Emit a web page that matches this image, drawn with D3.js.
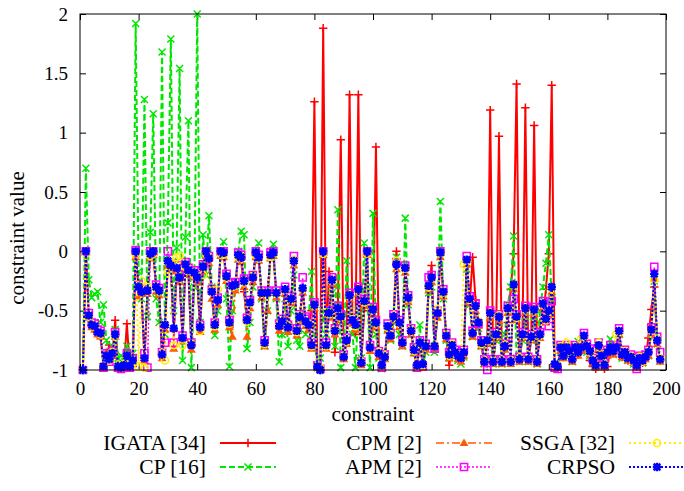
<!DOCTYPE html>
<html><head><meta charset="utf-8">
<script src="https://cdn.jsdelivr.net/npm/d3@7"></script>
<style>
body{margin:0;background:#fff}
svg{display:block}
text{font-family:"Liberation Serif","Times New Roman",serif;fill:#000}
</style>
</head><body>
<svg id="c" width="684" height="491"></svg>
<script>
// ---------- data ----------
const seriesNames = ["IGATA [34]", "CP [16]", "CPM [2]", "APM [2]", "SSGA [32]", "CRPSO"];
const xTicks = [0, 20, 40, 60, 80, 100, 120, 140, 160, 180, 200];
const yTicks = [-1, -0.5, 0, 0.5, 1, 1.5, 2];
const yTickLabels = ["-1", "-0.5", "0", "0.5", "1", "1.5", "2"];

const igata = [
 -1, 0, -0.54, -0.62, -0.65, -0.70, -0.72, -0.95, -0.90, -0.79,
 -0.90, -0.58, -0.97, -0.99, -0.98, -0.61, -0.98, -0.97, -0.02, -0.32,
 -0.36, -0.92, -0.35, -0.04, -0.02, -0.32, -0.35, -0.88, -0.64, -0.10,
 -0.14, -0.67, -0.16, -0.24, -0.75, -0.13, -0.18, -0.80, -0.20, -0.24,
 -0.66, -0.15, -0.02, -0.08, -0.36, -0.64, -0.43, -0.02, -0.03, -0.23,
 -0.62, -0.31, -0.30, -0.05, -0.07, -0.34, -0.60, -0.45, -0.24, -0.03,
 -0.07, -0.37, -0.79, -0.37, -0.05, -0.03, -0.37, -0.65, -0.61, -0.34,
 -0.66, -0.42, -0.10, -0.69, -0.57, -0.33, -0.61, -0.64, -0.50, 1.26,
 -0.97, -1, 1.88, -0.80, -0.17, -0.30, -0.85, -0.50, 0.94, -0.90,
 -0.76, 1.32, -0.60, -0.70, 1.32, -0.94, -0.50, -0.05, -0.82, -0.60,
 0.88, -0.87, -0.97, -0.90, -0.65, -0.73, -0.57, 0.0, -0.62, -0.79,
 -0.16, -0.41, -0.69, -0.85, -0.97, -0.79, -0.96, -0.82, -0.31, -0.12,
 -0.82, -0.54, -0.03, -0.36, -0.73, -0.96, -0.81, -0.87, -0.90, -0.92,
 -0.87, -0.09, -0.45, -0.05, -0.41, -0.62, -0.79, -0.94, -0.77, 1.19,
 -0.94, -0.72, 0.97, -0.94, -0.82, -0.60, -0.32, -0.02, 1.41, -0.92,
 -0.72, 1.21, -0.92, -0.74, 1.06, -0.94, -0.60, -0.59, -0.32, -0.02,
 1.40, -0.97, -0.98, -0.83, -0.89, -0.83, -0.86, -0.92, -0.83, -0.87,
 -0.83, -0.73, -0.82, -0.92, -0.97, -0.99, -0.85, -0.92, -0.99, -0.97,
 -0.83, -0.86, -0.83, -0.69, -0.89, -0.87, -0.92, -0.91, -0.94, -0.97,
 -0.92, -0.94, -0.91, -0.73, -0.49, -0.30, -0.77, -0.92
];

const cp = [
 -1, 0.70, -0.24, -0.39, -0.36, -0.34, -0.60, -0.45, -0.75, -0.85,
 -0.80, -0.66, -0.90, -0.88, -0.95, -0.80, -0.95, -0.86, 1.92, -0.17,
 -0.40, 1.28, -0.55, 0.16, 1.16, -0.40, -0.60, 1.68, -0.70, 0.24,
 1.79, -0.50, 0.03, 1.54, -0.92, 0.12, 1.10, -0.98, -0.30, 2.0,
 -0.60, 0.14, -0.20, 0.30, -0.30, -0.71, -0.50, 0.0, 0.08, -0.40,
 -0.97, -0.50, -0.30, 0.0, 0.17, 0.14, -0.82, -0.60, -0.30, 0.0,
 0.07, -0.40, -0.80, -0.50, 0.0, 0.06, -0.40, -0.93, -0.70, -0.40,
 -0.80, -0.50, -0.20, -0.75, -0.80, -0.50, -0.70, -0.60, -0.17, -0.70,
 -0.98, -0.90, -0.50, -0.70, -0.50, -0.35, -0.80, 0.35, -0.98, -0.90,
 -0.08, -0.50, -0.70, -0.98, -0.50, -0.90, 0.07, -0.30, -0.98, 0.32,
 -0.70, -0.90, -0.99, -0.90, -0.65, -0.75, -0.60, -0.05, -0.70, -0.80,
 0.28, -0.45, -0.70, -0.85, -0.98, -0.62, -0.97, -0.85, -0.35, -0.30,
 -0.85, -0.55, 0.42, -0.40, -0.75, -0.90, -0.82, -0.88, -0.92, -0.95,
 -0.89, -0.15, -0.45, -0.72, -0.50, -0.65, -0.80, -0.95, -0.78, -0.70,
 -0.95, -0.75, -0.60, -0.95, -0.70, -0.45, -0.30, 0.13, -0.90, -0.93,
 -0.75, -0.55, -0.93, -0.75, -0.55, -0.95, -0.50, -0.30, -0.10, 0.14,
 -0.40, -0.97, -0.98, -0.85, -0.88, -0.80, -0.86, -0.93, -0.80, -0.76,
 -0.83, -0.75, -0.85, -0.88, -0.94, -0.97, -0.80, -0.90, -0.97, -0.86,
 -0.74, -0.87, -0.80, -0.70, -0.90, -0.88, -0.92, -0.90, -0.95, -0.97,
 -0.92, -0.94, -0.90, -0.88, -0.70, -0.25, -0.78, -0.92
];

const cpm = [
 -1, 0, -0.56, -0.64, -0.66, -0.70, -0.72, -0.95, -0.85, -0.90,
 -0.88, -0.72, -0.95, -0.97, -0.98, -0.90, -0.95, -0.93, -0.05, -0.38,
 -0.36, -0.92, -0.36, -0.06, -0.03, -0.34, -0.37, -0.90, -0.66, -0.12,
 -0.16, -0.82, -0.17, -0.26, -0.76, -0.15, -0.20, -0.83, -0.22, -0.26,
 -0.68, -0.17, -0.04, -0.10, -0.40, -0.66, -0.45, -0.04, -0.05, -0.25,
 -0.64, -0.72, -0.33, -0.07, -0.09, -0.30, -0.72, -0.48, -0.26, -0.05,
 -0.08, -0.39, -0.80, -0.50, -0.06, -0.04, -0.39, -0.67, -0.63, -0.36,
 -0.68, -0.44, -0.12, -0.71, -0.58, -0.35, -0.63, -0.66, -0.82, -0.48,
 -0.98, -1, -0.03, -0.82, -0.56, -0.28, -0.70, -0.52, -0.58, -0.91,
 -0.78, -0.41, -0.61, -0.66, -0.36, -0.96, -0.46, -0.03, -0.84, -0.53,
 -0.64, -0.89, -0.98, -0.91, -0.67, -0.74, -0.58, -0.15, -0.64, -0.80,
 -0.18, -0.43, -0.70, -0.86, -0.98, -0.80, -0.97, -0.83, -0.33, -0.26,
 -0.83, -0.56, -0.05, -0.38, -0.74, -0.90, -0.82, -0.88, -0.91, -0.93,
 -0.88, -0.11, -0.44, -0.72, -0.50, -0.63, -0.80, -0.95, -0.78, -0.56,
 -0.95, -0.73, -0.59, -0.95, -0.83, -0.52, -0.95, -0.32, -0.58, -0.93,
 -0.73, -0.52, -0.93, -0.75, -0.53, -0.95, -0.73, -0.48, -0.60, -0.54,
 -0.34, -0.97, -0.98, -0.84, -0.90, -0.84, -0.87, -0.93, -0.84, -0.88,
 -0.84, -0.74, -0.83, -0.87, -0.94, -0.98, -0.82, -0.90, -0.98, -0.88,
 -0.84, -0.87, -0.84, -0.70, -0.89, -0.88, -0.92, -0.91, -0.94, -0.98,
 -0.92, -0.94, -0.91, -0.88, -0.70, -0.23, -0.78, -0.93
];

const apm = [
 -1, 0, -0.52, -0.60, -0.61, -0.66, -0.67, -0.98, -0.86, -0.93,
 -0.84, -0.68, -0.98, -0.99, -0.97, -0.86, -0.98, -0.90, 0.01, -0.28,
 -0.32, -0.86, -0.98, 0, 0, -0.28, -0.31, -0.85, -0.77, 0,
 -0.10, -0.77, -0.12, -0.20, -0.71, -0.09, -0.14, -0.77, -0.16, -0.20,
 -0.62, -0.11, 0, -0.04, -0.32, -0.60, -0.39, 0, 0, -0.19,
 -0.58, -0.27, -0.26, -0.01, -0.03, -0.23, -0.56, -0.41, -0.20, 0,
 -0.03, -0.33, -0.75, -0.33, -0.01, 0, -0.33, -0.61, -0.57, -0.30,
 -0.62, -0.38, -0.04, -0.65, -0.53, -0.22, -0.57, -0.55, -0.77, -0.43,
 -0.96, -0.99, 0, -0.77, -0.50, -0.22, -0.65, -0.46, -0.53, -0.87,
 -0.73, -0.35, -0.56, -0.60, -0.30, -0.93, -0.40, 0, -0.79, -0.47,
 -0.58, -0.84, -0.98, -0.87, -0.61, -0.69, -0.53, -0.09, -0.58, -0.75,
 -0.12, -0.37, -0.65, -0.81, -0.98, -0.75, -0.97, -0.78, -0.22, -0.20,
 -0.82, -0.50, 0, -0.32, -0.69, -0.85, -0.77, -0.83, -0.86, -0.88,
 -0.83, -0.04, -0.38, -0.67, -0.44, -0.61, -0.75, -0.91, -1, -0.50,
 -0.91, -0.68, -0.53, -0.91, -0.78, -0.46, -0.91, -0.40, -0.53, -0.89,
 -0.68, -0.46, -0.89, -0.70, -0.47, -0.91, -0.68, -0.42, -0.55, -0.63,
 -0.42, -0.98, -0.99, -0.79, -0.86, -0.79, -0.82, -0.89, -0.79, -0.83,
 -0.79, -0.69, -0.78, -0.82, -0.90, -0.94, -0.77, -0.86, -0.94, -0.83,
 -0.79, -0.82, -0.79, -0.65, -0.85, -0.83, -0.88, -0.87, -0.90, -0.99,
 -0.88, -0.90, -0.87, -0.83, -0.64, -0.13, -0.72, -0.85
];

const ssga = [
 -1, -0.02, -0.55, -0.61, -0.64, -0.67, -0.70, -0.96, -0.89, -0.92,
 -0.85, -0.71, -0.96, -0.97, -0.95, -0.89, -0.96, -0.93, -0.03, -0.97,
 -0.25, -0.98, -0.30, -0.04, -0.02, -0.31, -0.34, -0.86, -0.92, -0.18,
 -0.10, -0.79, -0.05, -0.04, -0.79, -0.13, -0.17, -0.78, -0.20, -0.21,
 -0.67, -0.20, -0.02, -0.05, -0.33, -0.63, -0.32, -0.02, -0.03, -0.22,
 -0.61, -0.30, -0.29, -0.05, -0.04, -0.26, -0.59, -0.44, -0.21, -0.03,
 -0.06, -0.34, -0.78, -0.36, -0.05, -0.02, -0.36, -0.62, -0.60, -0.33,
 -0.63, -0.41, -0.07, -0.68, -0.54, -0.32, -0.60, -0.61, -0.80, -0.46,
 -0.96, -0.98, -0.02, -0.80, -0.53, -0.25, -0.66, -0.49, -0.56, -0.88,
 -0.76, -0.38, -0.57, -0.63, -0.33, -0.93, -0.43, -0.02, -0.80, -0.50,
 -0.61, -0.85, -0.97, -0.88, -0.64, -0.70, -0.56, -0.08, -0.61, -0.76,
 -0.15, -0.40, -0.66, -0.84, -0.97, -0.78, -0.96, -0.79, -0.30, -0.23,
 -0.79, -0.49, -0.02, -0.36, -0.70, -0.88, -0.78, -0.86, -0.87, -0.89,
 -0.11, -0.08, -0.41, -0.68, -0.47, -0.59, -0.78, -0.92, -0.76, -0.53,
 -0.92, -0.71, -0.54, -0.92, -0.79, -0.49, -0.92, -0.29, -0.56, -0.90,
 -0.71, -0.49, -0.90, -0.73, -0.50, -0.92, -0.71, -0.45, -0.58, -0.51,
 -0.31, -0.96, -0.96, -0.80, -0.87, -0.77, -0.85, -0.90, -0.82, -0.84,
 -0.74, -0.72, -0.81, -0.85, -0.91, -0.95, -0.77, -0.87, -0.95, -0.84,
 -0.82, -0.83, -0.70, -0.68, -0.86, -0.84, -0.89, -0.88, -0.93, -0.95,
 -0.89, -0.93, -0.88, -0.84, -0.67, -0.24, -0.74, -0.90
];

const crpso = [
 -1, 0, -0.54, -0.62, -0.63, -0.68, -0.69, -0.97, -0.88, -0.91,
 -0.86, -0.70, -0.97, -0.98, -0.96, -0.88, -0.97, -0.92, 0, -0.30,
 -0.34, -0.90, -0.33, -0.02, 0, -0.30, -0.33, -0.87, -0.62, -0.08,
 -0.12, -0.65, -0.14, -0.22, -0.73, -0.11, -0.16, -0.79, -0.18, -0.22,
 -0.64, -0.13, 0, -0.06, -0.34, -0.62, -0.41, 0, -0.01, -0.21,
 -0.60, -0.29, -0.28, -0.03, -0.05, -0.25, -0.58, -0.43, -0.22, -0.01,
 -0.05, -0.35, -0.77, -0.35, -0.03, -0.01, -0.35, -0.63, -0.59, -0.32,
 -0.64, -0.40, -0.08, -0.67, -0.55, -0.31, -0.59, -0.62, -0.79, -0.45,
 -0.97, -1, 0, -0.79, -0.52, -0.24, -0.67, -0.48, -0.55, -0.89,
 -0.75, -0.37, -0.58, -0.62, -0.32, -0.94, -0.42, 0, -0.81, -0.49,
 -0.60, -0.86, -0.96, -0.89, -0.63, -0.71, -0.55, -0.11, -0.60, -0.77,
 -0.14, -0.39, -0.67, -0.83, -0.96, -0.77, -0.95, -0.80, -0.29, -0.22,
 -0.80, -0.52, -0.01, -0.34, -0.71, -0.87, -0.79, -0.85, -0.88, -0.90,
 -0.85, -0.07, -0.40, -0.69, -0.46, -0.60, -0.77, -0.93, -0.75, -0.52,
 -0.93, -0.70, -0.55, -0.93, -0.80, -0.48, -0.93, -0.28, -0.55, -0.91,
 -0.70, -0.48, -0.91, -0.72, -0.49, -0.93, -0.70, -0.44, -0.57, -0.50,
 -0.30, -0.95, -0.97, -0.81, -0.88, -0.81, -0.84, -0.91, -0.81, -0.85,
 -0.81, -0.71, -0.80, -0.84, -0.92, -0.96, -0.79, -0.88, -0.96, -0.85,
 -0.81, -0.84, -0.81, -0.67, -0.87, -0.85, -0.90, -0.89, -0.92, -0.96,
 -0.90, -0.92, -0.89, -0.85, -0.66, -0.19, -0.75, -0.91
];

// ---------- styles ----------
const styles = [
  {name: seriesNames[0], data: igata, color: "#ff0000", dash: null,      lw: 2,   marker: "plus"},
  {name: seriesNames[1], data: cp,    color: "#00e600", dash: "6,3",     lw: 2,   marker: "cross"},
  {name: seriesNames[2], data: cpm,   color: "#ff5a00", dash: "8,3,2,3", lw: 1.6, marker: "tri"},
  {name: seriesNames[3], data: apm,   color: "#ff00ff", dash: "2,2",     lw: 1.5, marker: "square"},
  {name: seriesNames[4], data: ssga,  color: "#ffee00", dash: "2,3",     lw: 2,   marker: "circle"},
  {name: seriesNames[5], data: crpso, color: "#0000ff", dash: "2,2",     lw: 2,   marker: "star"}
];

const svg = d3.select("#c");
const x = d3.scaleLinear().domain([0, 200]).range([80, 666]);
const y = d3.scaleLinear().domain([-1, 2]).range([370, 14]);

function markerPath(type, cx, cy) {
  const s = 4.2;
  switch (type) {
    case "plus": return `M${cx-s},${cy}H${cx+s}M${cx},${cy-s}V${cy+s}`;
    case "cross": return `M${cx-3.5},${cy-3.5}L${cx+3.5},${cy+3.5}M${cx-3.5},${cy+3.5}L${cx+3.5},${cy-3.5}`;
    case "star": return `M${cx-s},${cy}H${cx+s}M${cx},${cy-s}V${cy+s}M${cx-3.3},${cy-3.3}L${cx+3.3},${cy+3.3}M${cx-3.3},${cy+3.3}L${cx+3.3},${cy-3.3}`;
    case "tri": return `M${cx},${cy-4.5}L${cx+4.5},${cy+3}L${cx-4.5},${cy+3}Z`;
    case "square": return `M${cx-3.6},${cy-3.6}h7.2v7.2h-7.2Z`;
    case "circle": return `M${cx+3.6},${cy}A3.6,3.6 0 1,1 ${cx-3.6},${cy}A3.6,3.6 0 1,1 ${cx+3.6},${cy}Z`;
  }
}
function markerStyle(sel, st) {
  if (st.marker === "tri") sel.attr("fill", st.color).attr("stroke", "none");
  else sel.attr("fill", "none").attr("stroke", st.color).attr("stroke-width", st.marker === "star" ? 2.4 : 1.5);
}

// ---------- frame & axes ----------
const gAxis = svg.append("g");
gAxis.append("g").attr("transform", "translate(0,370)")
  .call(d3.axisBottom(x).tickValues(xTicks).tickSize(-6).tickPadding(12).tickFormat(d => String(d)))
  .call(g => { g.select(".domain").remove(); g.selectAll("line").attr("stroke", "#000"); });
gAxis.append("g").attr("transform", "translate(0,14)")
  .call(d3.axisTop(x).tickValues(xTicks).tickSize(-6).tickFormat(""))
  .call(g => { g.select(".domain").remove(); g.selectAll("line").attr("stroke", "#000"); });
gAxis.append("g").attr("transform", "translate(80,0)")
  .call(d3.axisLeft(y).tickValues(yTicks).tickSize(-6).tickPadding(12).tickFormat((d, i) => yTickLabels[i]))
  .call(g => { g.select(".domain").remove(); g.selectAll("line").attr("stroke", "#000"); });
gAxis.append("g").attr("transform", "translate(666,0)")
  .call(d3.axisRight(y).tickValues(yTicks).tickSize(-6).tickFormat(""))
  .call(g => { g.select(".domain").remove(); g.selectAll("line").attr("stroke", "#000"); });
gAxis.selectAll("text").attr("font-family", "'Liberation Serif','Times New Roman',serif").attr("font-size", 19).attr("fill", "#000");

// ---------- series ----------
const plot = svg.append("g");
styles.forEach(st => {
  const pts = st.data.map((v, i) => [i + 1, v]);
  const line = d3.line().x(d => x(d[0])).y(d => y(d[1]));
  plot.append("path").datum(pts)
    .attr("d", line).attr("fill", "none")
    .attr("stroke", st.color).attr("stroke-width", st.lw)
    .attr("stroke-dasharray", st.dash);
  const mk = plot.append("path")
    .attr("d", pts.map(d => markerPath(st.marker, x(d[0]), y(d[1]))).join(""));
  markerStyle(mk, st);
});

svg.append("rect").attr("x", 80).attr("y", 14).attr("width", 586).attr("height", 356)
  .attr("fill", "none").attr("stroke", "#000").attr("stroke-width", 1);

// ---------- labels ----------
svg.append("text").attr("x", 373).attr("y", 421).attr("text-anchor", "middle")
  .attr("font-size", 21).text("constraint");
svg.append("text").attr("transform", "translate(24,238) rotate(-90)").attr("text-anchor", "middle")
  .attr("font-size", 21).text("constraint value");

// ---------- legend ----------
const colText = [206, 422, 615];
const rowY = [443, 467];
styles.forEach((st, i) => {
  const col = Math.floor(i / 2), row = i % 2;
  const ty = rowY[row];
  svg.append("text").attr("x", colText[col]).attr("y", ty + 7).attr("text-anchor", "end")
    .attr("font-size", 21.5).text(st.name);
  const x0 = colText[col] + 14, x1 = x0 + 56;
  svg.append("line").attr("x1", x0).attr("x2", x1).attr("y1", ty).attr("y2", ty)
    .attr("stroke", st.color).attr("stroke-width", st.lw).attr("stroke-dasharray", st.dash);
  const mk = svg.append("path").attr("d", markerPath(st.marker, (x0 + x1) / 2, ty));
  markerStyle(mk, st);
});
</script>
</body></html>
